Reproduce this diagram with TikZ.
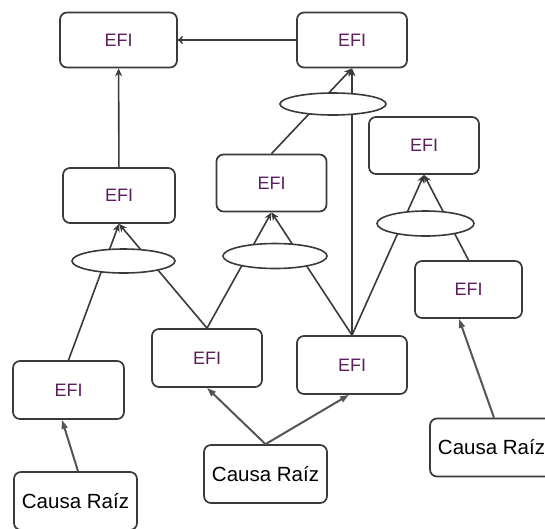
\documentclass[tikz,border=0pt]{standalone}
\usepackage{fontspec}
\setmainfont{Liberation Sans}
\usetikzlibrary{arrows.meta,shapes.geometric}
\definecolor{efitext}{RGB}{92,30,92}
\definecolor{edge}{RGB}{58,58,58}
\definecolor{rootedge}{RGB}{85,85,85}
\begin{document}
\begin{tikzpicture}[x=1pt,y=-1pt,
  efi/.style={draw=edge,line width=1.7pt,rounded corners=7pt,minimum width=110pt,
    minimum height=57pt,text=efitext,font=\fontsize{18}{18}\selectfont},
  causa/.style={draw=edge,line width=1.7pt,rounded corners=7pt,minimum width=123pt,
    minimum height=58pt,font=\fontsize{20.5}{21}\selectfont},
  gate/.style={ellipse,draw=edge,fill=white,line width=1.6pt,inner sep=0pt},
  link/.style={edge,line width=1.6pt,-{Stealth[length=8pt,width=7pt]}},
  rootlink/.style={rootedge,line width=2pt,-{Triangle[length=9pt,width=6pt]}}]
\clip (0,0) rectangle (545,528);

\node[efi,minimum width=117pt,minimum height=55pt] (t1) at (118.5,40) {EFI};
\node[efi,minimum height=55pt] (t2) [right of=t1,node distance=233.5pt] {EFI};

\node[efi,minimum width=112pt,minimum height=55pt] (m1) at (119,195.5) {EFI};
\node[efi] (m2) at (271.5,183) {EFI};
\node[efi] (r1) at (424,145.5) {EFI};
\node[efi,minimum width=107pt] (r2) at (468.5,289.5) {EFI};

\node[efi,minimum width=111pt,minimum height=58pt] (b0) at (68.5,390) {EFI};
\node[efi,minimum height=58pt] (b1) at (207,358) {EFI};
\node[efi,minimum height=58pt] (b2) at (352,365) {EFI};

\node[causa] (c1) at (75.5,501) {Causa Raíz};
\node[causa] (c2) at (265.5,474) {Causa Raíz};
\node[causa] (c3) at (491.5,447.5) {Causa Raíz};

\draw[edge,line width=1.6pt,-{To[length=5pt,width=8pt]}] (t2) -- (t1);
\draw[link] (m1) -- (t1);

\draw[link] (m2.north) -- (t2.south);
\draw[link] (b2.north) -- (t2.south);

\draw[link] (b0.north) -- (m1.south);
\draw[link] (b1.north) -- (m1.south);
\draw[link] (b1.north) -- (m2.south);
\draw[link] (b2.north) -- (m2.south);
\draw[link] (b2.north) -- (r1.south);
\draw[link] (r2.north) -- (r1.south);

\draw[rootlink] ([xshift=2.5pt]c1.north) -- ([xshift=-6.5pt]b0.south);
\draw[rootlink] (c2.north) -- (b1.south);
\draw[rootlink] (c2.north) -- ([xshift=-3pt]b2.south);
\draw[rootlink] ([xshift=2.5pt]c3.north) -- ([xshift=-9.5pt]r2.south);

% and-gates over the links
\node[gate,minimum width=103pt,minimum height=24pt] (e1) at (123.5,261) {};
\node[gate,minimum width=104pt,minimum height=25pt] (e2) at (275,256) {};
\node[gate,minimum width=97pt,minimum height=25pt] (e3) at (425.5,223.5) {};
\node[gate,minimum width=106pt,minimum height=22pt] (e4) at (333,104) {};
\end{tikzpicture}
\end{document}
